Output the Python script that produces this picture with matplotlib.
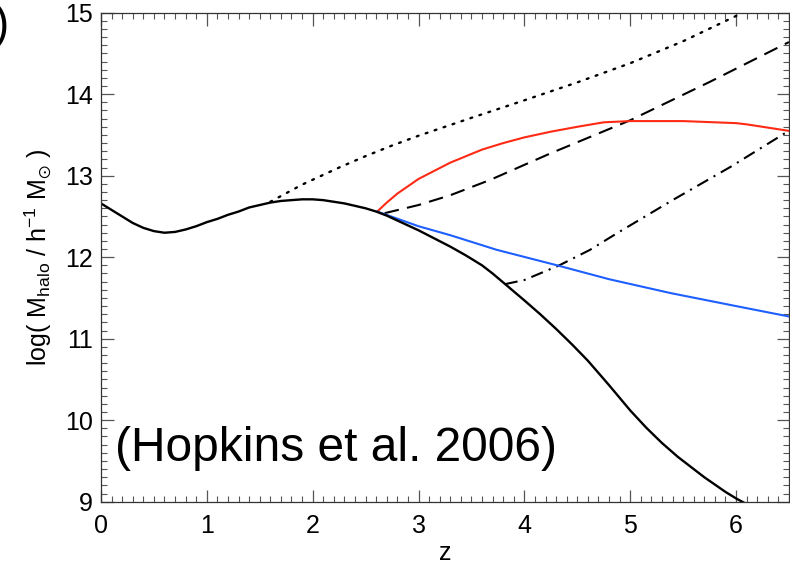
import matplotlib
matplotlib.use("Agg")
import matplotlib.pyplot as plt
from matplotlib.ticker import MultipleLocator

plt.rcParams.update({
    "font.family": ["Liberation Sans", "DejaVu Sans"],
    "mathtext.fontset": "custom",
    "mathtext.rm": "Liberation Sans",
    "mathtext.it": "Liberation Sans",
    "mathtext.default": "regular",
})

# main black track
z_main = [0.0, 0.1, 0.2, 0.3, 0.4, 0.5, 0.6, 0.7, 0.8, 0.9, 1.0, 1.1, 1.2, 1.3,
          1.4, 1.5, 1.6, 1.7, 1.8, 1.9, 2.0, 2.1, 2.2, 2.3, 2.4, 2.5, 2.6, 2.7,
          2.8, 2.9, 3.0, 3.15, 3.3, 3.45, 3.6, 3.7, 3.8, 3.9, 4.0, 4.15, 4.3,
          4.45, 4.6, 4.8, 5.0, 5.15, 5.3, 5.45, 5.6, 5.7, 5.8, 5.9, 6.0, 6.1, 6.2]
m_main = [12.66, 12.58, 12.50, 12.42, 12.36, 12.32, 12.30, 12.31, 12.34, 12.38,
          12.43, 12.47, 12.52, 12.56, 12.61, 12.64, 12.67, 12.69, 12.70, 12.71,
          12.71, 12.70, 12.68, 12.66, 12.63, 12.60, 12.56, 12.51, 12.45, 12.39,
          12.33, 12.23, 12.13, 12.02, 11.90, 11.80, 11.69, 11.58, 11.47, 11.30,
          11.12, 10.93, 10.73, 10.43, 10.12, 9.91, 9.72, 9.55, 9.40, 9.30, 9.21,
          9.12, 9.04, 8.97, 8.90]

# dotted branch
z_dot = [1.6, 1.7, 1.8, 1.9, 2.0, 2.25, 2.5, 2.75, 3.0, 3.5, 4.0, 4.5, 5.0, 5.5, 6.0, 6.5]
m_dot = [12.68, 12.75, 12.82, 12.89, 12.95, 13.10, 13.24, 13.37, 13.49, 13.71,
         13.925, 14.145, 14.38, 14.65, 14.96, 15.28]

# dashed branch
z_dash = [2.68, 3.0, 3.3, 3.68, 4.24, 5.0, 5.75, 6.5]
m_dash = [12.54, 12.64, 12.76, 12.95, 13.27, 13.68, 14.15, 14.64]

# dash-dot branch
z_dd = [3.82, 4.0, 4.33, 4.62, 4.87, 5.4, 5.95, 6.51]
m_dd = [11.67, 11.72, 11.90, 12.09, 12.29, 12.70, 13.11, 13.56]

# red branch
z_red = [2.61, 2.7, 2.8, 2.9, 3.0, 3.15, 3.3, 3.45, 3.6, 3.8, 4.0, 4.25, 4.5,
         4.75, 5.0, 5.5, 6.0, 6.1, 6.3, 6.5]
m_red = [12.56, 12.67, 12.78, 12.87, 12.96, 13.06, 13.16, 13.24, 13.32, 13.40,
         13.47, 13.54, 13.60, 13.655, 13.67, 13.67, 13.645, 13.63, 13.59, 13.55]

# blue branch
z_blue = [2.61, 3.0, 3.3, 3.74, 4.31, 4.8, 5.38, 6.0, 6.51]
m_blue = [12.56, 12.38, 12.27, 12.09, 11.90, 11.73, 11.56, 11.40, 11.27]

fig = plt.figure(figsize=(7.9, 5.67), dpi=100)
ax = fig.add_axes([0.1278, 0.1152, 0.8709, 0.8624])

lw = 1.5
ax.plot(z_dot, m_dot, color="black", lw=1.7, linestyle=(0, (0.8, 3.2)),
        dash_capstyle="round")
ax.plot(z_dash, m_dash, color="black", lw=lw, linestyle=(0, (7, 4)))
ax.plot(z_dd, m_dd, color="black", lw=lw, linestyle=(0, (6, 3, 1, 3)))
ax.plot(z_red, m_red, color="#ff2a14", lw=lw)
ax.plot(z_blue, m_blue, color="#1e5fff", lw=lw)
ax.plot(z_main, m_main, color="black", lw=1.7)

ax.set_xlim(0, 6.5)
ax.set_ylim(9, 15)
ax.xaxis.set_major_locator(MultipleLocator(1))
ax.xaxis.set_minor_locator(MultipleLocator(0.1))
ax.yaxis.set_major_locator(MultipleLocator(1))
ax.yaxis.set_minor_locator(MultipleLocator(0.1))
ax.tick_params(which="both", direction="in", top=True, right=True,
               color="#555555", labelsize=18)
ax.tick_params(which="major", length=9, width=0.9)
ax.tick_params(which="minor", length=4.5, width=0.8)
ax.tick_params(axis="x", pad=9)
ax.tick_params(axis="y", pad=6)
for sp in ax.spines.values():
    sp.set_linewidth(0.9)
    sp.set_color("#333333")

ax.set_xlabel("z", fontsize=18, labelpad=2)
ax.set_ylabel(r"log( M$_{halo}$ / h$^{-1}$ M$_{\odot}$ )", fontsize=18, labelpad=8)

ax.text(0.02, 0.083, "(Hopkins et al. 2006)", transform=ax.transAxes,
        fontsize=34.5, ha="left", va="baseline")

# clipped panel label at the top-left corner
fig.text(9 / 790, 1 - 26 / 567, ")", fontsize=33, ha="right", va="center")

fig.savefig("out.png", dpi=100)
